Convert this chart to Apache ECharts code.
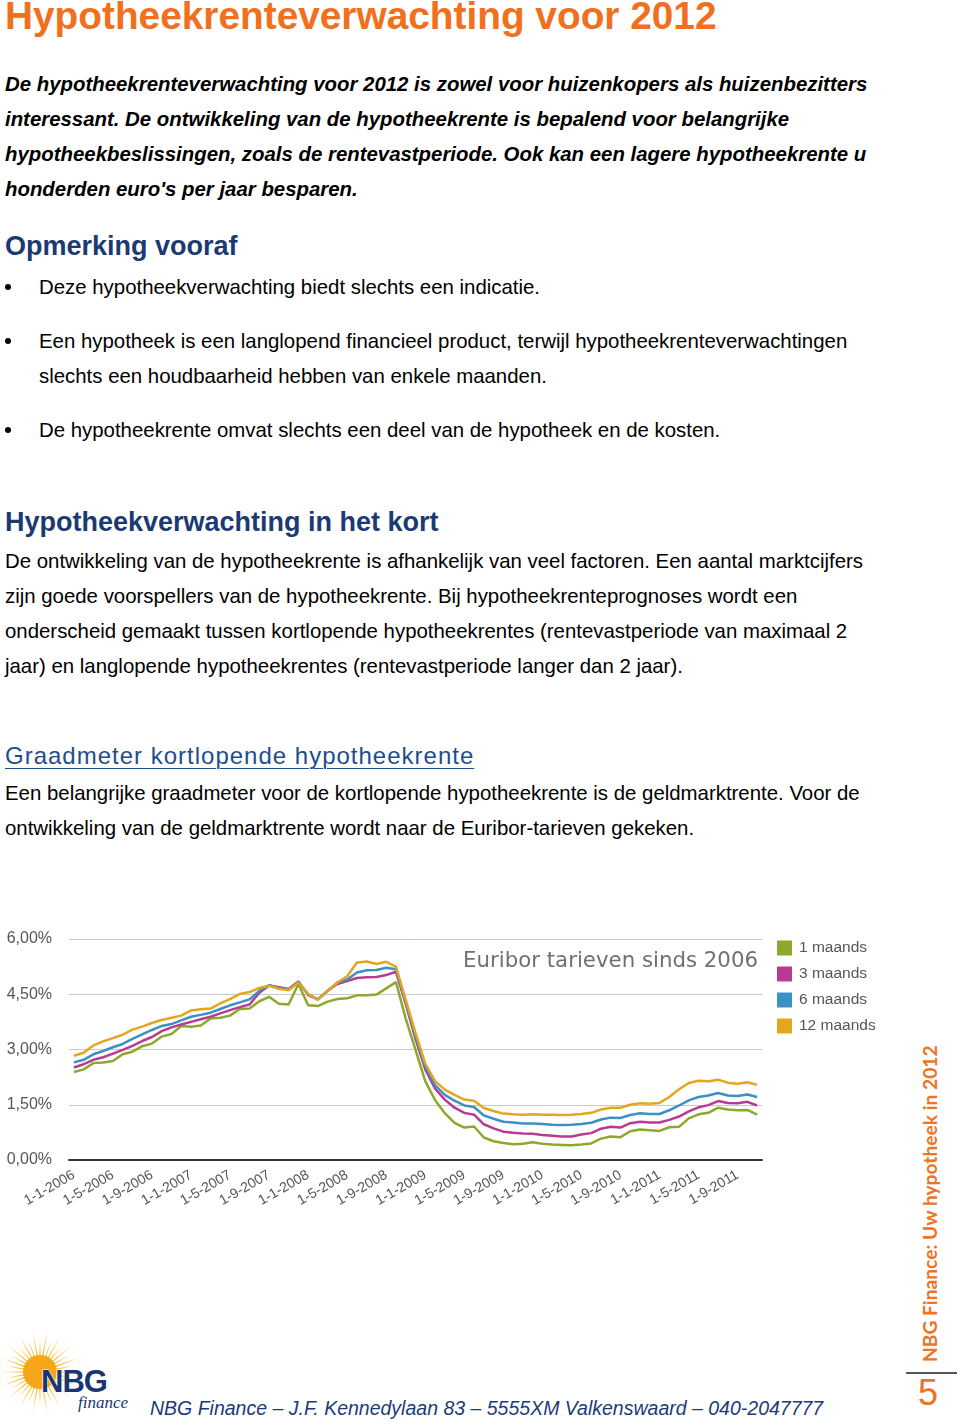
<!DOCTYPE html>
<html>
<head>
<meta charset="utf-8">
<script src="https://cdn.jsdelivr.net/npm/echarts@6/dist/echarts.min.js"></script>
<style>
  html,body{margin:0;padding:0;background:#fff;}
  body{width:960px;height:1420px;position:relative;overflow:hidden;font-family:"Liberation Sans",Arial,sans-serif;color:#000;}
  .abs{position:absolute;white-space:nowrap;}
  .h1{left:5px;top:-3px;font-size:38.8px;line-height:38px;font-weight:bold;color:#f0701e;}
  .intro{left:5px;top:66.5px;font-size:20.4px;line-height:35px;font-weight:bold;font-style:italic;}
  .h2{left:5px;font-size:27px;line-height:34px;font-weight:bold;color:#1c3a72;}
  .p{left:5px;font-size:20.4px;line-height:35px;}
  .bul{left:39px;font-size:20.4px;line-height:35px;}
  .dot{position:absolute;left:5px;width:6px;height:6px;border-radius:3px;background:#000;}
  .h3{left:5px;top:739px;font-size:24px;line-height:34px;letter-spacing:1px;color:#1f4d8c;text-decoration:underline;text-decoration-thickness:1px;text-underline-offset:4px;}
  .foot{left:150px;top:1396px;font-size:19.5px;line-height:24px;font-style:italic;color:#1d3a78;}
  .side{position:absolute;left:919px;top:1050px;height:312px;width:22px;writing-mode:vertical-rl;transform:rotate(180deg);font-family:Lato,"Open Sans",sans-serif;font-weight:bold;font-size:19.2px;line-height:22px;color:#ee7322;white-space:nowrap;}
  .pg{left:908px;top:1373px;width:40px;text-align:center;font-size:36px;line-height:40px;color:#ee7322;}
  .rule{position:absolute;left:906px;top:1372px;width:51px;height:1.5px;background:#555;}
  #chart{position:absolute;left:0;top:900px;width:900px;height:340px;}
</style>
</head>
<body>
<div class="abs h1">Hypotheekrenteverwachting voor 2012</div>
<div class="abs intro">De hypotheekrenteverwachting voor 2012 is zowel voor huizenkopers als huizenbezitters<br>interessant. De ontwikkeling van de hypotheekrente is bepalend voor belangrijke<br>hypotheekbeslissingen, zoals de rentevastperiode. Ook kan een lagere hypotheekrente u<br>honderden euro's per jaar besparen.</div>
<div class="abs h2" style="top:229px;">Opmerking vooraf</div>
<div class="dot" style="top:284px;"></div>
<div class="abs bul" style="top:269.5px;">Deze hypotheekverwachting biedt slechts een indicatie.</div>
<div class="dot" style="top:338px;"></div>
<div class="abs bul" style="top:323.5px;">Een hypotheek is een langlopend financieel product, terwijl hypotheekrenteverwachtingen<br>slechts een houdbaarheid hebben van enkele maanden.</div>
<div class="dot" style="top:427px;"></div>
<div class="abs bul" style="top:412.5px;">De hypotheekrente omvat slechts een deel van de hypotheek en de kosten.</div>
<div class="abs h2" style="top:505px;">Hypotheekverwachting in het kort</div>
<div class="abs p" style="top:543.5px;">De ontwikkeling van de hypotheekrente is afhankelijk van veel factoren. Een aantal marktcijfers<br>zijn goede voorspellers van de hypotheekrente. Bij hypotheekrenteprognoses wordt een<br>onderscheid gemaakt tussen kortlopende hypotheekrentes (rentevastperiode van maximaal 2<br>jaar) en langlopende hypotheekrentes (rentevastperiode langer dan 2 jaar).</div>
<div class="abs h3">Graadmeter kortlopende hypotheekrente</div>
<div class="abs p" style="top:775.5px;">Een belangrijke graadmeter voor de kortlopende hypotheekrente is de geldmarktrente. Voor de<br>ontwikkeling van de geldmarktrente wordt naar de Euribor-tarieven gekeken.</div>

<div id="chart"></div>

<svg style="position:absolute;left:0;top:1326px;" width="140" height="94" viewBox="0 0 140 94">
  <defs>
    <radialGradient id="sun" cx="40" cy="46" r="46" gradientUnits="userSpaceOnUse">
      <stop offset="0" stop-color="#f7b21a"/>
      <stop offset="0.6" stop-color="#f9c94a"/>
      <stop offset="1" stop-color="#fde7b0"/>
    </radialGradient>
  </defs>
  <g id="rays"></g>
  <circle cx="40" cy="46" r="17" fill="#f6a719"/>
  <text x="41" y="66" font-family="Liberation Sans, Arial" font-weight="bold" font-size="31" fill="#1b3571" stroke="#fff" stroke-width="1.2" paint-order="stroke" letter-spacing="-1">NBG</text>
  <text x="78" y="82" font-family="Liberation Serif, serif" font-style="italic" font-size="17" fill="#1b3571">finance</text>
</svg>

<div class="side">NBG Finance: Uw hypotheek in 2012</div>
<div class="rule"></div>
<div class="abs pg">5</div>

<div class="abs foot">NBG Finance – J.F. Kennedylaan 83 – 5555XM Valkenswaard – 040-2047777</div>

<script>
// sun rays (decorative logo)
(function(){
  var g=document.getElementById('rays'), ns='http://www.w3.org/2000/svg';
  for(var i=0;i<36;i++){
    var a=i*Math.PI*2/36, len=(i%2?34:44), w=0.07;
    var cx=40,cy=46;
    var p1=[cx+Math.cos(a-w)*12, cy+Math.sin(a-w)*12];
    var p2=[cx+Math.cos(a)*len, cy+Math.sin(a)*len];
    var p3=[cx+Math.cos(a+w)*12, cy+Math.sin(a+w)*12];
    var el=document.createElementNS(ns,'polygon');
    el.setAttribute('points',p1.join(',')+' '+p2.join(',')+' '+p3.join(','));
    el.setAttribute('fill','url(#sun)');
    g.appendChild(el);
  }
})();

// ---- DATA ----
var categories = [
 '1-1-2006','1-2-2006','1-3-2006','1-4-2006','1-5-2006','1-6-2006','1-7-2006','1-8-2006','1-9-2006','1-10-2006','1-11-2006','1-12-2006',
 '1-1-2007','1-2-2007','1-3-2007','1-4-2007','1-5-2007','1-6-2007','1-7-2007','1-8-2007','1-9-2007','1-10-2007','1-11-2007','1-12-2007',
 '1-1-2008','1-2-2008','1-3-2008','1-4-2008','1-5-2008','1-6-2008','1-7-2008','1-8-2008','1-9-2008','1-10-2008','1-11-2008','1-12-2008',
 '1-1-2009','1-2-2009','1-3-2009','1-4-2009','1-5-2009','1-6-2009','1-7-2009','1-8-2009','1-9-2009','1-10-2009','1-11-2009','1-12-2009',
 '1-1-2010','1-2-2010','1-3-2010','1-4-2010','1-5-2010','1-6-2010','1-7-2010','1-8-2010','1-9-2010','1-10-2010','1-11-2010','1-12-2010',
 '1-1-2011','1-2-2011','1-3-2011','1-4-2011','1-5-2011','1-6-2011','1-7-2011','1-8-2011','1-9-2011','1-10-2011','1-11-2011'
];
var seriesNames = ['1 maands','3 maands','6 maands','12 maands'];
var euribor1m = [
 2.39,2.46,2.63,2.65,2.69,2.87,2.94,3.09,3.16,3.35,3.42,3.64,
 3.62,3.65,3.84,3.86,3.92,4.10,4.11,4.31,4.43,4.24,4.22,4.78,
 4.20,4.18,4.30,4.37,4.39,4.47,4.47,4.49,4.66,4.83,3.84,2.99,
 2.14,1.63,1.27,1.01,0.88,0.91,0.61,0.51,0.46,0.43,0.44,0.48,
 0.44,0.42,0.41,0.40,0.42,0.45,0.58,0.64,0.62,0.78,0.83,0.81,
 0.79,0.89,0.90,1.13,1.24,1.28,1.42,1.37,1.35,1.36,1.23
];
var euribor3m = [
 2.51,2.60,2.72,2.79,2.89,2.99,3.10,3.23,3.34,3.50,3.60,3.68,
 3.75,3.82,3.89,3.98,4.07,4.15,4.22,4.54,4.74,4.69,4.64,4.85,
 4.48,4.36,4.60,4.78,4.86,4.94,4.96,4.97,5.02,5.11,4.24,3.29,
 2.46,1.94,1.64,1.42,1.28,1.23,0.97,0.86,0.77,0.74,0.72,0.71,
 0.68,0.66,0.64,0.64,0.69,0.73,0.85,0.90,0.88,1.00,1.04,1.02,
 1.02,1.09,1.18,1.32,1.43,1.49,1.60,1.55,1.54,1.58,1.48
];
var euribor6m = [
 2.65,2.72,2.87,2.96,3.06,3.15,3.29,3.41,3.53,3.64,3.69,3.79,
 3.89,3.94,4.00,4.10,4.20,4.28,4.36,4.59,4.75,4.66,4.63,4.83,
 4.50,4.36,4.59,4.82,4.90,5.09,5.15,5.16,5.22,5.18,4.29,3.37,
 2.54,2.03,1.77,1.61,1.48,1.44,1.21,1.12,1.04,1.02,0.99,0.99,
 0.98,0.96,0.95,0.96,0.98,1.01,1.10,1.15,1.14,1.22,1.27,1.25,
 1.25,1.35,1.48,1.62,1.71,1.75,1.82,1.75,1.74,1.78,1.71
];
var euribor12m = [
 2.83,2.91,3.11,3.22,3.31,3.40,3.54,3.62,3.72,3.80,3.86,3.92,
 4.06,4.09,4.11,4.25,4.37,4.51,4.56,4.67,4.73,4.65,4.61,4.82,
 4.50,4.35,4.59,4.82,4.99,5.36,5.39,5.32,5.38,5.25,4.35,3.45,
 2.62,2.14,1.91,1.77,1.64,1.61,1.41,1.33,1.26,1.24,1.23,1.24,
 1.23,1.23,1.22,1.23,1.25,1.28,1.37,1.42,1.42,1.50,1.54,1.53,
 1.55,1.71,1.92,2.09,2.15,2.14,2.18,2.10,2.07,2.11,2.04
];
var seriesColors = ['#8ea82b','#b93a91','#3d90c4','#e3a71f'];
var chartTitle = 'Euribor tarieven sinds 2006';

var dataSets = [euribor1m, euribor3m, euribor6m, euribor12m];
var chart = echarts.init(document.getElementById('chart'), null, {renderer:'canvas'});
chart.setOption({
  animation:false,
  title:{text:chartTitle, right:137, top:46, textStyle:{fontFamily:'DejaVu Sans', fontWeight:'normal', fontSize:21.3, color:'#707070'}},
  legend:{
    orient:'vertical', left:772, top:35, itemWidth:15, itemHeight:15, itemGap:10,
    icon:'rect', data:seriesNames,
    textStyle:{fontFamily:'Liberation Sans, Arial', fontSize:15.5, color:'#555', padding:[0,0,0,2]}
  },
  grid:{left:69, top:39, width:693, height:221, containLabel:false},
  xAxis:{
    type:'category', data:categories, boundaryGap:true,
    axisLine:{show:true, lineStyle:{color:'#333', width:2}},
    axisTick:{show:false},
    axisLabel:{interval:3, rotate:30, margin:14, fontSize:14, color:'#555', fontFamily:'Liberation Sans, Arial'},
    splitLine:{show:false}
  },
  yAxis:{
    type:'value', min:0, max:6, interval:1.5,
    axisLine:{show:false}, axisTick:{show:false},
    axisLabel:{margin:17, fontSize:16, color:'#555', fontFamily:'Liberation Sans, Arial',
      formatter:function(v){return v.toFixed(2).replace('.',',')+'%';}},
    splitLine:{lineStyle:{color:'#c8c8c8', width:1}}
  },
  series: seriesNames.map(function(n,i){
    return {name:n, type:'line', data:dataSets[i], symbol:'none', smooth:false,
      itemStyle:{color:seriesColors[i]}, lineStyle:{color:seriesColors[i], width:2.5}};
  })
});
</script>
</body>
</html>
